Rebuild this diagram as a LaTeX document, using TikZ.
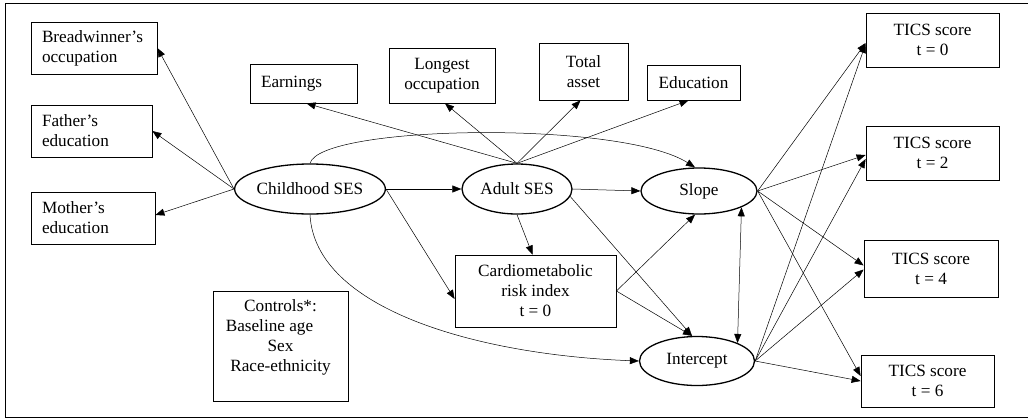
\documentclass[tikz,border=0pt]{standalone}
\usepackage{fontspec}
\setmainfont{Liberation Serif}
\usepackage{tikz}
\usetikzlibrary{shapes.geometric, arrows.meta}

\begin{document}
\begin{tikzpicture}[x=1pt, y=-1pt, font=\fontsize{17.2}{20}\selectfont,
					box/.style={draw, line width=0.8pt, inner sep=0pt, align=center},
					lbox/.style={draw, line width=0.8pt, inner xsep=11pt, inner ysep=0pt, align=left},
					latent/.style={draw, ellipse, line width=1.3pt, inner sep=0pt},
					path/.style={-{Triangle[length=9pt, width=7pt]}, line width=0.5pt}]
					\useasboundingbox (0,0) rectangle (1028,418);
					\draw[line width=1pt] (5,3) rectangle (1040,417);
					\node[lbox, text width=104pt, minimum height=52pt] (bread) at (94,48) {Breadwinner's\\occupation};
					\node[lbox, text width=99pt, minimum height=52pt] (father) at (91.5,131) {Father's\\education};
					\node[lbox, text width=102pt, minimum height=52pt] (mother) at (93,218) {Mother's\\education};
					\node[lbox, text width=85pt, minimum height=39pt] (earn) at (303.5,83.5) {Earnings};
					\node[box, minimum width=106pt, minimum height=55pt] (longest) at (442,75.5) {Longest\\occupation};
					\node[box, minimum width=89pt, minimum height=57pt] (asset) at (583.5,71.5) {Total\\asset};
					\node[box, minimum width=93pt, minimum height=35pt] (educ) at (693.5,82.5) {Education};
					\node[box, minimum width=133pt, minimum height=54pt] (tics0) at (932.5,40) {TICS score\\t = 0};
					\node[box, minimum width=133pt, minimum height=54pt] (tics2) at (932.5,153) {TICS score\\t = 2};
					\node[box, minimum width=134pt, minimum height=57pt] (tics4) at (931,268.5) {TICS score\\t = 4};
					\node[box, minimum width=133pt, minimum height=52pt] (tics6) at (927.5,381) {TICS score\\t = 6};
					\node[box, minimum width=161pt, minimum height=72pt] (cardio) at (535.5,291) {Cardiometabolic\\risk index\\t = 0};
					\node[box, minimum width=135pt, minimum height=110pt] (controls) at (280.5,346) {Controls*:\\\mbox{Baseline age\hspace{22pt}}\\Sex\\Race-ethnicity\\\mbox{}};
					\node[latent, minimum width=123pt, minimum height=50pt] (child) at (310,189) {Childhood SES};
					\node[latent, minimum width=110pt, minimum height=50pt] (adult) at (517,189) {Adult SES};
					\node[latent, minimum width=116pt, minimum height=46pt] (slope) at (699,191) {Slope};
					\node[latent, minimum width=115pt, minimum height=49pt] (icept) at (697,361) {Intercept};
					\draw[path] (child.west) -- (bread.east);
					\draw[path] (child.west) -- (father.east);
					\draw[path] (child.west) -- ([yshift=3pt]mother.east);
					\draw[path] (child.east) -- (adult.west);
					\draw[path] (child.east) -- ([yshift=-8pt]cardio.west);
					\draw[path] (child.north) .. controls (320,125) and (620,120) .. ([xshift=-4pt]slope.north);
					\draw[path] (child.south) .. controls (315,310) and (480,355) .. (icept.west);
					\draw[path] (adult.north) -- ([xshift=3pt]earn.south);
					\draw[path] (adult.north) -- ([xshift=3pt]longest.south);
					\draw[path] (adult.north) -- ([xshift=-3pt]asset.south);
					\draw[path] (adult.north) -- ([xshift=-5pt]educ.south);
					\draw[path] (adult.east) -- (slope.west);
					\draw[path] (adult.south) -- ([xshift=-3pt]cardio.north);
					\draw[path] (adult.-8) -- ([xshift=-5pt]icept.north);
					\draw[path] (cardio.east) -- ([xshift=-4pt]slope.south);
					\draw[path] (cardio.east) -- ([xshift=-5pt]icept.north);
					\draw[path, {Triangle[length=9pt, width=7pt]}-{Triangle[length=9pt, width=7pt]}] (slope.-21) -- (icept.24);
					\draw[path] (slope.east) -- ([yshift=-3pt]tics0.west);
					\draw[path] (slope.east) -- ([yshift=-2pt]tics2.west);
					\draw[path] (slope.east) -- ([yshift=3pt]tics4.west);
					\draw[path] (slope.east) -- ([yshift=5pt]tics6.west);
					\draw[path] (icept.east) -- ([yshift=-4pt]tics0.west);
					\draw[path] (icept.east) -- ([yshift=-6pt]tics2.west);
					\draw[path] (icept.east) -- ([yshift=-1pt]tics4.west);
					\draw[path] (icept.east) -- (tics6.west);
				\end{tikzpicture}
\end{document}
